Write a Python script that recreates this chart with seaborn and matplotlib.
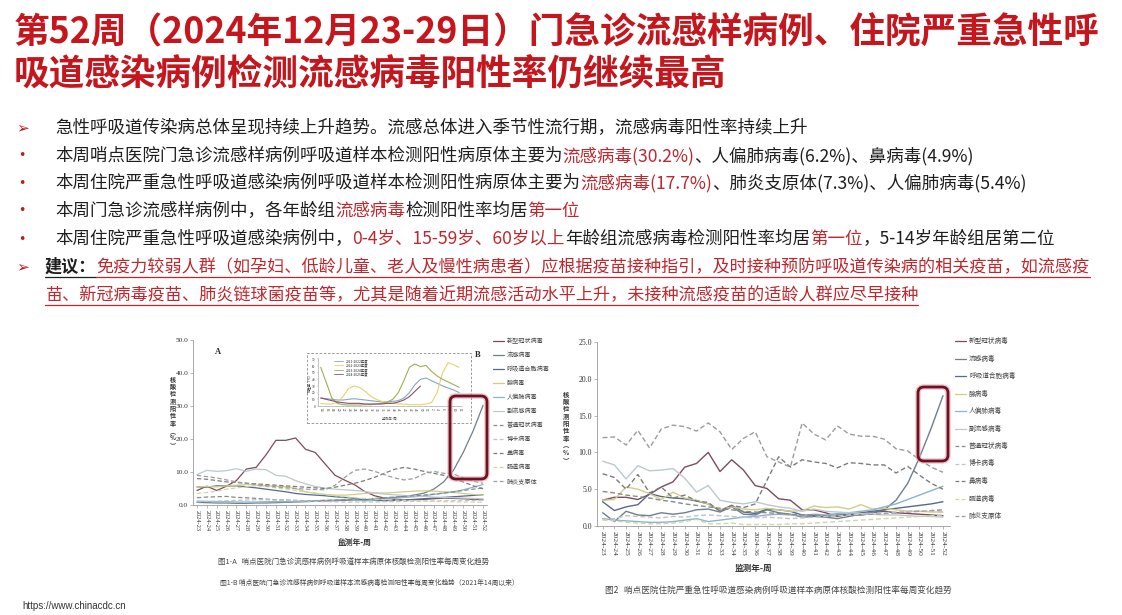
import numpy as np
import pandas as pd
import matplotlib
matplotlib.use("Agg")
import matplotlib.pyplot as plt
import seaborn as sns
from matplotlib.lines import Line2D
from matplotlib.patches import FancyBboxPatch, Rectangle

sns.set_theme(style="ticks")
plt.rcParams['font.family'] = ['Noto Sans CJK SC', 'DejaVu Sans']
plt.rcParams['axes.unicode_minus'] = False

# ---------------- data ----------------
weeks = ["2024-23", "2024-24", "2024-25", "2024-26", "2024-27", "2024-28", "2024-29", "2024-30",
         "2024-31", "2024-32", "2024-33", "2024-34", "2024-35", "2024-36", "2024-37", "2024-38",
         "2024-39", "2024-40", "2024-41", "2024-42", "2024-43", "2024-44", "2024-45", "2024-46",
         "2024-47", "2024-48", "2024-49", "2024-50", "2024-51", "2024-52"]

pathogens = ["新型冠状病毒", "流感病毒", "呼吸道合胞病毒", "腺病毒", "人偏肺病毒", "副流感病毒",
             "普通冠状病毒", "博卡病毒", "鼻病毒", "肠道病毒", "肺炎支原体"]

# Figure 1-A : ILI outpatient positivity (%)
ili_covid = [4.4, 5.7, 4.4, 5.7, 7.4, 10.9, 11.4, 15.2, 19.6, 19.6, 20.3, 16.9, 15.9, 12.4, 9.0, 7.5,
             6.1, 4.1, 2.8, 2.1, 1.7, 1.5, 1.6, 1.7, 1.9, 2.1, 2.0, 1.9, 1.7, 1.6]
ili_flu = [0.8, 0.7, 0.6, 0.6, 0.5, 0.5, 0.6, 0.6, 0.7, 0.8, 0.9, 1.0, 1.1, 1.2, 1.3, 1.4,
           1.5, 1.6, 1.8, 2.0, 2.3, 2.6, 3.0, 3.6, 4.8, 7.0, 10.5, 16.0, 22.5, 30.2]
ili_rsv = [5.5, 5.4, 5.8, 5.8, 5.8, 5.5, 5.2, 4.8, 4.4, 4.0, 3.5, 3.2, 3.0, 2.8, 2.5, 2.3,
           2.0, 1.5, 1.4, 1.3, 1.4, 1.5, 1.7, 1.9, 2.1, 2.3, 2.5, 2.7, 2.9, 3.1]
ili_adv = [5.5, 5.6, 5.5, 5.8, 6.0, 6.2, 6.0, 5.8, 5.7, 5.5, 5.0, 4.0, 3.5, 3.2, 3.0, 3.0,
           3.2, 3.5, 3.7, 3.6, 3.8, 4.0, 4.2, 4.3, 4.2, 4.0, 3.8, 3.5, 3.2, 3.0]
ili_hmpv = [1.2, 1.1, 1.0, 1.0, 0.9, 0.9, 0.9, 1.0, 1.0, 1.0, 1.1, 1.2, 1.3, 1.4, 1.5, 1.7,
            1.5, 1.2, 1.5, 1.8, 2.0, 2.3, 2.5, 2.8, 3.2, 3.6, 4.0, 4.6, 5.4, 6.2]
ili_piv = [9.2, 10.5, 10.2, 10.4, 11.0, 10.2, 10.9, 10.7, 9.0, 8.7, 7.4, 6.4, 5.6, 5.1, 4.8, 4.6,
           4.4, 4.1, 3.6, 3.3, 3.1, 2.9, 2.7, 2.6, 2.4, 2.3, 2.2, 2.1, 2.0, 1.9]
ili_hcov = [2.2, 2.4, 2.5, 2.6, 2.3, 2.2, 2.0, 1.8, 1.6, 1.5, 1.4, 1.3, 1.3, 1.4, 1.5, 1.6,
            1.7, 1.8, 2.0, 2.2, 2.4, 2.6, 2.8, 3.0, 3.3, 3.6, 4.0, 4.4, 4.8, 5.2]
ili_boca = [1.0, 1.1, 1.2, 1.3, 1.4, 1.5, 1.6, 1.6, 1.5, 1.4, 1.3, 1.2, 1.1, 1.0, 1.0, 0.9,
            0.9, 0.9, 0.9, 1.0, 1.0, 1.1, 1.1, 1.2, 1.2, 1.3, 1.3, 1.4, 1.4, 1.5]
ili_rhino = [8.0, 7.8, 7.4, 7.0, 6.8, 6.6, 6.4, 6.2, 6.0, 5.8, 5.6, 5.4, 5.2, 5.0, 5.4, 6.0,
             6.6, 7.4, 8.4, 9.6, 10.8, 11.4, 10.9, 10.2, 9.6, 9.0, 8.0, 7.0, 5.8, 4.9]
ili_ev = [3.5, 3.8, 4.2, 4.8, 5.2, 5.5, 5.8, 5.6, 5.2, 4.8, 4.4, 4.0, 3.6, 3.2, 2.8, 2.5,
          2.2, 2.0, 1.8, 1.6, 1.5, 1.4, 1.3, 1.2, 1.1, 1.0, 1.0, 0.9, 0.9, 0.8]
ili_mp = [9.0, 8.6, 8.2, 7.6, 7.0, 6.6, 6.2, 5.8, 5.5, 5.2, 5.0, 4.8, 4.7, 4.6, 6.0, 8.4,
          10.5, 10.9, 10.2, 9.2, 8.2, 7.6, 8.0, 9.4, 10.2, 9.6, 9.4, 8.2, 7.2, 6.6]

# Figure 2 : SARI inpatient positivity (%)
sari_covid = [3.5, 3.9, 3.9, 3.6, 4.3, 5.3, 6.0, 8.0, 8.5, 10.0, 7.4, 9.0, 7.6, 5.5, 5.1, 3.7,
              3.5, 2.2, 2.2, 1.8, 1.3, 1.6, 1.5, 1.8, 2.0, 1.8, 1.7, 1.6, 1.5, 1.4]
sari_flu = [1.8, 0.6, 2.0, 1.5, 1.4, 1.8, 1.6, 1.8, 2.2, 2.3, 1.9, 2.6, 1.6, 1.5, 2.2, 1.8,
            1.6, 1.2, 1.3, 1.2, 1.0, 1.3, 1.6, 1.8, 2.2, 3.5, 5.8, 9.3, 13.3, 17.7]
sari_rsv = [3.3, 2.1, 2.6, 2.9, 4.4, 4.0, 3.8, 3.7, 3.4, 3.0, 2.1, 2.8, 1.9, 1.7, 2.3, 2.2,
            2.0, 1.5, 1.4, 1.3, 1.5, 1.6, 1.8, 2.0, 2.2, 2.4, 2.6, 2.8, 3.0, 3.3]
sari_adv = [3.5, 3.6, 5.3, 5.0, 4.4, 3.6, 4.6, 3.8, 3.5, 3.0, 2.2, 2.6, 2.3, 2.2, 2.4, 2.2,
            2.0, 2.1, 2.7, 2.5, 2.6, 2.3, 2.9, 2.3, 2.4, 2.2, 2.0, 2.0, 1.9, 1.9]
sari_hmpv = [1.0, 0.8, 0.7, 0.6, 0.5, 0.5, 0.6, 0.8, 1.0, 0.6, 0.8, 1.0, 1.2, 1.3, 1.5, 1.6,
             1.5, 1.4, 1.6, 1.5, 1.7, 1.8, 2.0, 2.2, 2.6, 3.0, 3.6, 4.2, 4.8, 5.4]
sari_piv = [8.8, 8.3, 6.4, 8.2, 7.5, 7.6, 7.8, 6.5, 4.6, 5.5, 3.5, 3.2, 3.0, 3.3, 2.9, 2.6,
            2.4, 2.0, 2.3, 2.0, 1.9, 1.8, 1.7, 1.6, 1.5, 1.5, 1.4, 1.3, 1.3, 1.2]
sari_hcov = [4.7, 4.5, 4.2, 4.0, 3.8, 3.5, 3.3, 3.0, 2.8, 2.6, 2.4, 2.2, 2.0, 1.9, 1.8, 1.7,
             1.6, 1.5, 1.5, 1.4, 1.4, 1.5, 1.5, 1.6, 1.7, 1.8, 1.9, 2.0, 2.1, 2.2]
sari_boca = [0.9, 1.0, 1.4, 1.3, 1.2, 1.1, 1.3, 1.2, 1.4, 1.5, 1.4, 1.3, 1.2, 1.1, 1.2, 1.1,
             1.0, 1.1, 1.2, 1.3, 1.4, 1.5, 1.6, 1.7, 1.8, 1.9, 2.0, 2.1, 2.0, 1.9]
sari_rhino = [7.1, 6.6, 5.0, 7.0, 4.5, 5.3, 3.8, 4.2, 3.4, 3.2, 2.0, 2.8, 2.5, 3.0, 6.2, 9.4,
              8.0, 9.0, 8.7, 8.5, 7.9, 8.6, 8.5, 8.3, 8.3, 7.2, 8.1, 6.9, 5.8, 5.0]
sari_ev = [0.8, 0.7, 0.5, 0.4, 0.3, 0.3, 0.4, 0.6, 0.9, 0.3, 0.3, 0.4, 0.2, 0.2, 0.2, 0.2,
           0.3, 0.3, 0.4, 0.5, 0.6, 0.7, 0.8, 0.9, 1.0, 1.1, 1.2, 1.3, 1.4, 1.5]
sari_mp = [12.0, 12.1, 11.0, 13.0, 10.6, 13.2, 13.7, 13.5, 12.9, 14.0, 12.8, 10.4, 11.9, 12.8, 9.4, 8.7,
           8.0, 14.0, 12.5, 11.7, 13.6, 12.5, 12.2, 12.2, 11.8, 10.5, 10.2, 9.0, 8.0, 7.3]

# Figure 1-B inset : influenza positivity by season (biweekly, from week 14)
inset_weeks = ["14", "16", "18", "20", "22", "24", "26", "28", "30", "32", "34", "36", "38",
               "40", "42", "44", "46", "48", "50", "52", "2", "4", "6", "8", "10", "12"]
seasons = ["2021-2022年度", "2022-2023年度", "2023-2024年度", "2024-2025年度"]
flu_2021 = [12, 11, 10, 9, 9, 10, 11, 10, 9, 8, 7, 6, 6, 7, 8, 12, 20, 32, 40, 42, 38, 34, 30, 27, 24, 20]
flu_2022 = [4, 3, 3, 5, 14, 26, 30, 28, 22, 15, 10, 7, 5, 4, 3, 3, 2, 2, 2, 3, 5, 20, 50, 65, 62, 58]
flu_2023 = [58, 35, 12, 4, 2, 1.5, 1.5, 1.5, 2, 2, 3, 4, 6, 10, 20, 38, 58, 63, 59, 61, 52, 45, 40, 36, 32, 28]
flu_2024 = [12, 10, 8, 6, 5, 4, 4, 4, 3, 3, 3, 3, 4, 4, 6, 9, 14, 22, 30]

y1_ticks = [0, 10, 20, 30, 40, 50]
y1_labels = ["0.0", "10.0", "20.0", "30.0", "40.0", "50.0"]
y2_ticks = [0, 5, 10, 15, 20, 25]
y2_labels = ["0.0", "5.0", "10.0", "15.0", "20.0", "25.0"]
inset_yticks = [0, 10, 20, 30, 40, 50, 60, 70]

colors = {"新型冠状病毒": "#7d4b5e", "流感病毒": "#6f7f8c", "呼吸道合胞病毒": "#56698a",
          "腺病毒": "#d2cd86", "人偏肺病毒": "#8bb3cf", "副流感病毒": "#bcc8d0",
          "普通冠状病毒": "#8a8a8a", "博卡病毒": "#c2c2c2", "鼻病毒": "#7c7c7c",
          "肠道病毒": "#cfd6a8", "肺炎支原体": "#9c9c9c"}
dashed = {"普通冠状病毒", "博卡病毒", "鼻病毒", "肠道病毒", "肺炎支原体"}
season_colors = {"2021-2022年度": "#86a6c4", "2022-2023年度": "#e2d46e",
                 "2023-2024年度": "#a2ad58", "2024-2025年度": "#86506e"}

ili = dict(zip(pathogens, [ili_covid, ili_flu, ili_rsv, ili_adv, ili_hmpv, ili_piv,
                           ili_hcov, ili_boca, ili_rhino, ili_ev, ili_mp]))
sari = dict(zip(pathogens, [sari_covid, sari_flu, sari_rsv, sari_adv, sari_hmpv, sari_piv,
                            sari_hcov, sari_boca, sari_rhino, sari_ev, sari_mp]))
inset = dict(zip(seasons, [flu_2021, flu_2022, flu_2023, flu_2024]))


def long_df(d, key):
    rows = []
    for name, vals in d.items():
        for i, v in enumerate(vals):
            rows.append((i, v, name))
    return pd.DataFrame(rows, columns=["idx", "val", key])


# ---------------- figure ----------------
W, H = 1122, 615
fig = plt.figure(figsize=(W / 100, H / 100), dpi=100)
fig.patch.set_facecolor("white")


def fx(x):
    return x / W


def fy(y):
    return 1 - y / H


def add_ax(x0, y0, x1, y1):
    return fig.add_axes([x0 / W, 1 - y1 / H, (x1 - x0) / W, (y1 - y0) / H])


renderer = fig.canvas.get_renderer()

RED = "#c4161c"
TXTRED = "#c0272d"
BLACK = "#1e1e1e"

# title
fig.text(fx(14), fy(33), "第52周（2024年12月23-29日）门急诊流感样病例、住院严重急性呼",
         color=RED, fontsize=25.7, fontweight="bold", ha="left", va="center")
fig.text(fx(14), fy(75), "吸道感染病例检测流感病毒阳性率仍继续最高",
         color=RED, fontsize=25.7, fontweight="bold", ha="left", va="center")


def seg_line(x, y, segs, size, underline=False):
    for txt, col, weight in segs:
        t = fig.text(fx(x), fy(y), txt, color=col, fontsize=size, fontweight=weight,
                     ha="left", va="center")
        bb = t.get_window_extent(renderer)
        if underline:
            fig.add_artist(Line2D([fx(bb.x0), fx(bb.x1)], [fy(y + 10)] * 2, color=col, lw=0.9))
        x = bb.x1


BS = 12.6
bullet_rows = [128, 156, 183, 211, 239, 267, 295]
for yy, kind in zip(bullet_rows[:6], ["arrow", "dot", "dot", "dot", "dot", "arrow"]):
    if kind == "arrow":
        fig.text(fx(23), fy(yy), "➢", color=RED, fontsize=11, fontweight="bold", ha="center",
                 va="center", family=["DejaVu Sans"])
    else:
        fig.text(fx(22), fy(yy), "•", color=RED, fontsize=9, ha="center", va="center",
                 family=["DejaVu Sans"])

seg_line(55, bullet_rows[0], [("急性呼吸道传染病总体呈现持续上升趋势。流感总体进入季节性流行期，流感病毒阳性率持续上升", BLACK, "normal")], BS)
seg_line(55, bullet_rows[1], [("本周哨点医院门急诊流感样病例呼吸道样本检测阳性病原体主要为", BLACK, "normal"),
                              ("流感病毒(30.2%)", TXTRED, "normal"),
                              ("、人偏肺病毒(6.2%)、鼻病毒(4.9%)", BLACK, "normal")], BS)
seg_line(55, bullet_rows[2], [("本周住院严重急性呼吸道感染病例呼吸道样本检测阳性病原体主要为", BLACK, "normal"),
                              ("流感病毒(17.7%)", TXTRED, "normal"),
                              ("、肺炎支原体(7.3%)、人偏肺病毒(5.4%)", BLACK, "normal")], BS)
seg_line(55, bullet_rows[3], [("本周门急诊流感样病例中，各年龄组", BLACK, "normal"),
                              ("流感病毒", TXTRED, "normal"),
                              ("检测阳性率均居", BLACK, "normal"),
                              ("第一位", TXTRED, "normal")], BS)
seg_line(55, bullet_rows[4], [("本周住院严重急性呼吸道感染病例中，", BLACK, "normal"),
                              ("0-4岁、15-59岁、60岁以上", TXTRED, "normal"),
                              ("年龄组流感病毒检测阳性率均居", BLACK, "normal"),
                              ("第一位", TXTRED, "normal"),
                              ("，5-14岁年龄组居第二位", BLACK, "normal")], BS)
seg_line(45, bullet_rows[5], [("建议：", BLACK, "bold"),
                              ("免疫力较弱人群（如孕妇、低龄儿童、老人及慢性病患者）应根据疫苗接种指引，及时接种预防呼吸道传染病的相关疫苗，如流感疫", TXTRED, "normal")],
         12.3, underline=True)
seg_line(45, bullet_rows[6], [("苗、新冠病毒疫苗、肺炎链球菌疫苗等，尤其是随着近期流感活动水平上升，未接种流感疫苗的适龄人群应尽早接种", TXTRED, "normal")],
         12.3, underline=True)

dash_map = {n: ((3.5, 2) if n in dashed else "") for n in pathogens}
SERIF = ["Liberation Serif", "DejaVu Serif"]


def style_axis(ax, yt, yl, tick_size, lab_size):
    for s in ["top", "right"]:
        ax.spines[s].set_visible(False)
    for s in ["left", "bottom"]:
        ax.spines[s].set_color("#9a9a9a")
        ax.spines[s].set_linewidth(0.6)
    ax.set_yticks(yt)
    ax.set_yticklabels(yl, fontsize=lab_size, family=SERIF, color="#333333")
    ax.set_xticks(range(len(weeks)))
    ax.set_xticklabels(weeks, rotation=270, fontsize=tick_size, family=SERIF, color="#333333")
    ax.tick_params(axis="both", length=2, width=0.5, color="#9a9a9a", pad=1.5)
    ax.set_xlabel("")
    ax.set_ylabel("")
    ax.set_facecolor("white")


# ---- Figure 1-A ----
ax1 = add_ax(193, 340, 487, 505)
sns.lineplot(data=long_df(ili, "pathogen"), x="idx", y="val", hue="pathogen", style="pathogen",
             hue_order=pathogens, style_order=pathogens, palette=colors, dashes=dash_map,
             estimator=None, sort=False, linewidth=0.9, legend=False, ax=ax1)
ax1.set_xlim(-0.4, 29.4)
ax1.set_ylim(0, 50)
style_axis(ax1, y1_ticks, y1_labels, 4.6, 5.3)

fig.text(fx(218), fy(352), "A", fontsize=6, fontweight="bold", family=SERIF, ha="center", va="center")
fig.text(fx(478), fy(355), "B", fontsize=6, fontweight="bold", family=SERIF, ha="center", va="center")
fig.text(fx(173), fy(412), "\n".join("核酸检测阳性率") + "\n︵\n%\n︶", fontsize=4.4, fontweight="bold",
         ha="center", va="center", linespacing=1.05, color="#333333")
fig.text(fx(355), fy(542), "监测年-周", fontsize=5.6, fontweight="bold", ha="center", va="center", color="#333333")
fig.text(fx(218), fy(563), "图1-A   哨点医院门急诊流感样病例呼吸道样本病原体核酸检测阳性率每周变化趋势",
         fontsize=5.4, ha="left", va="center", color="#444444")
fig.text(fx(220), fy(583), "图1-B 哨点医院门急诊流感样病例呼吸道样本流感病毒检测阳性率每周变化趋势（2021年14周以来）",
         fontsize=4.9, ha="left", va="center", color="#444444")


def manual_legend(xh0, xh1, xt, y0, dy, size):
    for i, name in enumerate(pathogens):
        y = y0 + i * dy
        ls = (0, (3, 2)) if name in dashed else "-"
        fig.add_artist(Line2D([fx(xh0), fx(xh1)], [fy(y)] * 2, color=colors[name], lw=0.9, linestyle=ls))
        fig.text(fx(xt), fy(y), name, fontsize=size, ha="left", va="center", color="#444444")


manual_legend(493, 504, 507, 341, 14, 4.4)

# inset B
fig.add_artist(Rectangle((fx(307), fy(423)), fx(471) - fx(307), fy(353) - fy(423), fill=False,
                         edgecolor="#8a8a8a", lw=0.6, linestyle=(0, (3, 2))))
axi = add_ax(318, 358, 462, 406)
sns.lineplot(data=long_df(inset, "season"), x="idx", y="val", hue="season", hue_order=seasons,
             palette=season_colors, estimator=None, sort=False, linewidth=0.8, legend=False, ax=axi)
axi.set_xlim(-0.5, 25.5)
axi.set_ylim(0, 72)
for s in ["top", "right"]:
    axi.spines[s].set_visible(False)
for s in ["left", "bottom"]:
    axi.spines[s].set_color("#9a9a9a")
    axi.spines[s].set_linewidth(0.4)
axi.set_yticks(inset_yticks)
axi.set_yticklabels([str(v) for v in inset_yticks], fontsize=2.4, family=SERIF)
axi.set_xticks(range(len(inset_weeks)))
axi.set_xticklabels(inset_weeks, rotation=270, fontsize=2.4, family=SERIF)
axi.tick_params(axis="both", length=1, width=0.3, color="#9a9a9a", pad=0.8)
axi.set_xlabel("")
axi.set_ylabel("阳性率（%）", fontsize=2.4, labelpad=1)
axi.set_facecolor("white")
hs = [Line2D([0], [0], color=season_colors[s], lw=0.6) for s in seasons]
axi.legend(hs, seasons, loc="upper left", bbox_to_anchor=(0.1, 1.02), fontsize=2.4, frameon=False,
           handlelength=2.5, labelspacing=0.15, borderpad=0.1)
fig.text(fx(390), fy(419), "监测年-周", fontsize=2.6, ha="center", va="center", color="#555555")

# ---- Figure 2 ----
ax2 = add_ax(597, 342, 950, 526)
sns.lineplot(data=long_df(sari, "pathogen"), x="idx", y="val", hue="pathogen", style="pathogen",
             hue_order=pathogens, style_order=pathogens, palette=colors, dashes=dash_map,
             estimator=None, sort=False, linewidth=1.0, legend=False, ax=ax2)
ax2.set_xlim(-0.48, 29.6)
ax2.set_ylim(0, 25)
style_axis(ax2, y2_ticks, y2_labels, 5.4, 5.6)

fig.text(fx(566), fy(427), "\n".join("核酸检测阳性率") + "\n︵\n%\n︶", fontsize=4.6, fontweight="bold",
         ha="center", va="center", linespacing=1.05, color="#333333")
fig.text(fx(753), fy(568), "监测年-周", fontsize=6.2, fontweight="bold", ha="center", va="center", color="#333333")
fig.text(fx(605), fy(590), "图2   哨点医院住院严重急性呼吸道感染病例呼吸道样本病原体核酸检测阳性率每周变化趋势",
         fontsize=6.2, ha="left", va="center", color="#444444")
manual_legend(955, 966, 969, 341, 17.5, 4.8)

# red highlight boxes (pixel -> inch coordinates)
for (x0, y0, x1, y1) in [(450, 396, 487, 479), (918, 387, 948, 461)]:
    for lw, col, a in [(4.0, "#eaa3ab", 0.6), (2.0, "#6b1322", 1.0)]:
        fig.add_artist(FancyBboxPatch((x0 / 100, (H - y1) / 100), (x1 - x0) / 100, (y1 - y0) / 100,
                                      boxstyle="round,pad=0,rounding_size=0.06", fill=False,
                                      edgecolor=col, lw=lw, alpha=a, transform=fig.dpi_scale_trans))

fig.text(fx(22), fy(606), "https://www.chinacdc.cn", fontsize=7, ha="left", va="center",
         color="#333333", family=["Liberation Sans Narrow", "Liberation Sans"])

fig.savefig("out.png", dpi=100, facecolor="white")
